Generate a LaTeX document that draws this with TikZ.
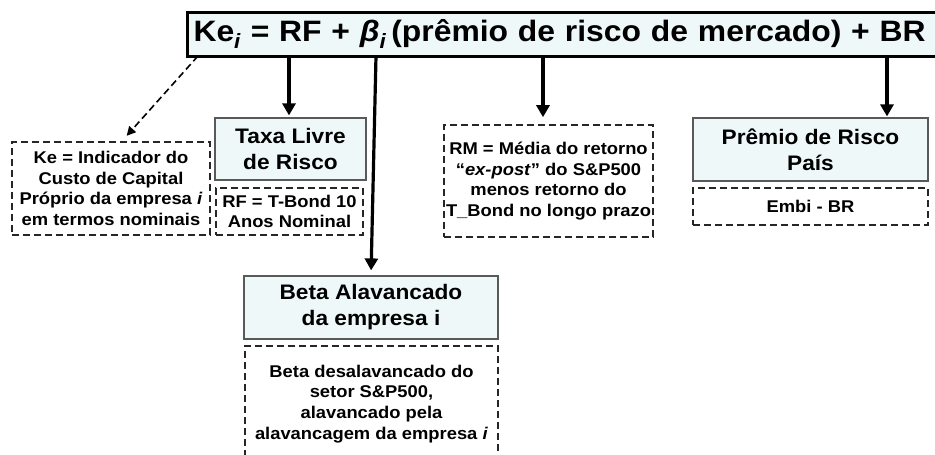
\documentclass[tikz,border=0pt]{standalone}
\usepackage{fontspec}
\setmainfont{Liberation Sans}[FakeStretch=1.08]
\usetikzlibrary{arrows.meta}
\definecolor{boxfill}{RGB}{238,248,248}

\begin{document}
\begin{tikzpicture}[x=1pt,y=-1pt]
        \useasboundingbox (0,0) rectangle (935,455);

        \node (eq) at (186,34) [anchor=west, rectangle, draw, line width=3pt, fill=boxfill,
            minimum height=44pt, inner xsep=6pt, text width=750pt, align=left,
            font=\bfseries\fontsize{29.5}{31}\selectfont]
            {Ke\textsubscript{\itshape i} = RF + \textit{β}\textsubscript{\itshape i}\,(prêmio de risco de mercado) + BR};

        \begin{scope}[every node/.style={rectangle,draw=black!65,line width=1.2pt,fill=boxfill,
            inner sep=0pt,align=center,font=\bfseries\fontsize{21}{26}\selectfont}]
            \node (taxa) at (290.5,149) [minimum width=151pt, minimum height=62pt] {Taxa Livre\\de Risco};
            \node (beta) at (371,307.5) [minimum width=254pt, minimum height=63pt] {Beta Alavancado\\da empresa i};
            \node (premio) at (810.5,149.5) [minimum width=235pt, minimum height=63pt] {Prêmio de Risco\\País};
        \end{scope}

        \begin{scope}[every node/.style={rectangle,draw=black!85,line width=1.6pt,dash pattern=on 7pt off 4pt,
            inner sep=0pt,align=center,font=\bfseries\fontsize{17}{20.8}\selectfont}]
            \node (ke) at (111,188.5) [minimum width=198pt, minimum height=93pt]
                {Ke = Indicador do\\Custo de Capital\\Próprio da empresa \textit{i}\\em termos nominais};
            \node (rf) at (289.5,211.5) [minimum width=147pt, minimum height=47pt] {RF = T-Bond 10\\Anos Nominal};
            \node (rm) at (548.5,181) [minimum width=209pt, minimum height=112pt]
                {RM = Média do retorno\\“\textit{ex-post}” do S\&P500\\menos retorno do\\T\_Bond no longo prazo};
            \node (embi) at (810.5,206.5) [minimum width=235pt, minimum height=37pt] {Embi - BR};
            \node (betadesc) at (371.5,404) [minimum width=253pt, minimum height=116pt]
                {Beta desalavancado do\\setor S\&P500,\\alavancado pela\\alavancagem da empresa \textit{i}};
        \end{scope}

        % pontos de saida na base da equacao
        \coordinate (tKe) at (198,56);
        \coordinate (tRF) at (289,56);
        \coordinate (tBeta) at (376,56);
        \coordinate (tRM) at (543,56);
        \coordinate (tBR) at (887,56);
        \coordinate (hKe) at (122,141);

        \begin{scope}[>={Triangle[width=13pt,length=12pt]},
            every edge/.style={line width=3.2pt, draw}]
            \path [->] (tRF) edge [shorten >=2pt] (tRF |- taxa.north);
            \path [->] (tBeta) edge [shorten >=5pt] (beta.north);
            \path [->] (tRM) edge [shorten >=7pt] (tRM |- rm.north);
            \path [->] (tBR) edge [shorten >=1pt] (tBR |- premio.north);
        \end{scope}
        \path [-{Triangle[width=9pt,length=9pt]}] (tKe) edge [line width=1.6pt, dash pattern=on 7pt off 4pt, draw, shorten >=7pt] (hKe);
    \end{tikzpicture}
\end{document}
